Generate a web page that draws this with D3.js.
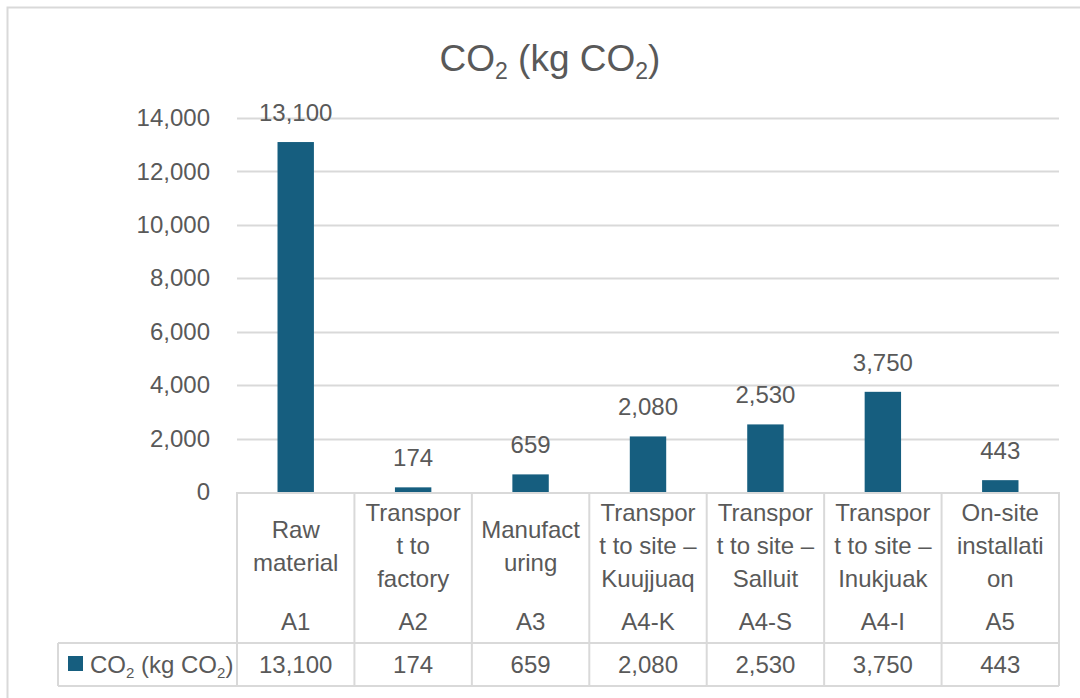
<!DOCTYPE html>
<html>
<head>
	<meta charset="utf-8">
	<title>CO2 (kg CO2)</title>
	<script src="https://d3js.org/d3.v7.min.js"></script>
	<style>
		html, body {
			margin: 0;
			background: #fff;
			overflow: hidden;
		}
		text {
			font-family: "Liberation Sans", Arial, sans-serif;
			fill: #595959;
		}
	</style>
</head>
<body>
	<svg id="svg"></svg>
	<script>
		// chart data
		const codes = ["A1", "A2", "A3", "A4-K", "A4-S", "A4-I", "A5"];
		const catLines = [
			["Raw", "material"],
			["Transpor", "t to", "factory"],
			["Manufact", "uring"],
			["Transpor", "t to site \u2013", "Kuujjuaq"],
			["Transpor", "t to site \u2013", "Salluit"],
			["Transpor", "t to site \u2013", "Inukjuak"],
			["On-site", "installati", "on"]
		];
		const co2 = [13100, 174, 659, 2080, 2530, 3750, 443];
		const yTicks = [0, 2000, 4000, 6000, 8000, 10000, 12000, 14000];

		const W = 1080, H = 698;
		const plot = { left: 237, right: 1059, top: 118, bottom: 492 };
		const rowSep = 643, tableBottom = 686, legendLeft = 58;
		const barColor = "#165e7f";
		const gridColor = "#d9d9d9";
		const fmt = d3.format(",");

		const svg = d3.select("#svg")
		.attr("width", W)
		.attr("height", H);

		// outer chart border (runs off the right and bottom edges)
		svg.append("path")
		.attr("d", `M7.5,${H + 5} V7.5 H${W + 5}`)
		.attr("fill", "none")
		.attr("stroke", gridColor)
		.attr("stroke-width", 2);

		// subscript helper: parts like ["CO", "2", " (kg CO", "2", ")"]
		function subText(sel, parts, size) {
			const sub = Math.round(size * 0.62);
			const shift = Math.round(size * 0.22);
			parts.forEach((p, i) => {
				const isSub = i % 2 === 1;
				const t = sel.append("tspan").text(p);
				if (isSub) t.attr("font-size", sub).attr("dy", shift);
				else if (i > 0) t.attr("dy", -shift);
			});
		}

		// title
		const title = svg.append("text")
		.attr("x", 550)
		.attr("y", 71)
		.attr("text-anchor", "middle")
		.attr("font-size", 37);
		subText(title, ["CO", "2", " (kg CO", "2", ")"], 37);

		const y = d3.scaleLinear()
		.domain([0, 14000])
		.range([plot.bottom, plot.top]);

		const colX = d3.scaleBand()
		.domain(codes)
		.range([plot.left, plot.right])
		.padding(0);

		const barX = d3.scaleBand()
		.domain(codes)
		.range([plot.left, plot.right])
		.paddingInner(0.69)
		.paddingOuter(0.345);

		// gridlines
		svg.append("g")
		.selectAll("line")
		.data(yTicks.filter(d => d > 0))
		.enter()
		.append("line")
		.attr("x1", plot.left)
		.attr("x2", plot.right)
		.attr("y1", d => Math.round(y(d)) + 0.5)
		.attr("y2", d => Math.round(y(d)) + 0.5)
		.attr("stroke", gridColor)
		.attr("stroke-width", 2);

		// y axis labels
		const yAxis = svg.append("g")
		.attr("transform", `translate(${plot.left - 27}, 0)`)
		.call(d3.axisLeft(y).tickValues(yTicks).tickFormat(fmt).tickSize(0).tickPadding(0));
		yAxis.select(".domain").remove();
		yAxis.selectAll("text")
		.attr("font-size", 24)
		.attr("font-family", "Liberation Sans, Arial, sans-serif")
		.attr("fill", "#595959");

		// bars
		svg.append("g")
		.selectAll("rect")
		.data(co2)
		.enter()
		.append("rect")
		.attr("x", (d, i) => barX(codes[i]))
		.attr("width", barX.bandwidth())
		.attr("y", d => y(d))
		.attr("height", d => y(0) - y(d))
		.attr("fill", barColor);

		// value labels
		svg.append("g")
		.selectAll("text")
		.data(co2)
		.enter()
		.append("text")
		.attr("x", (d, i) => colX(codes[i]) + colX.bandwidth() / 2)
		.attr("y", d => y(d) - 21)
		.attr("text-anchor", "middle")
		.attr("font-size", 24)
		.text(d => fmt(d));

		// data table lines
		const table = svg.append("g")
		.attr("stroke", gridColor)
		.attr("stroke-width", 2)
		.attr("fill", "none");

		table.append("line")
		.attr("x1", plot.left).attr("x2", plot.right)
		.attr("y1", plot.bottom + 1).attr("y2", plot.bottom + 1);
		table.append("line")
		.attr("x1", legendLeft).attr("x2", plot.right)
		.attr("y1", rowSep).attr("y2", rowSep);
		table.append("line")
		.attr("x1", legendLeft).attr("x2", plot.right)
		.attr("y1", tableBottom).attr("y2", tableBottom);
		table.append("line")
		.attr("x1", legendLeft).attr("x2", legendLeft)
		.attr("y1", rowSep).attr("y2", tableBottom);

		table.selectAll(".col")
		.data(codes.map(c => colX(c)).concat([plot.right]))
		.enter()
		.append("line")
		.attr("x1", d => d).attr("x2", d => d)
		.attr("y1", plot.bottom).attr("y2", tableBottom);

		// category labels
		const lineH = 33;
		const cats = svg.append("g")
		.selectAll("text")
		.data(catLines)
		.enter()
		.append("text")
		.attr("text-anchor", "middle")
		.attr("font-size", 24);

		cats.each(function (lines, i) {
			const cx = colX(codes[i]) + colX.bandwidth() / 2;
			const y0 = 546 - (lines.length - 1) * lineH / 2 + 8;
			d3.select(this).selectAll("tspan")
			.data(lines)
			.enter()
			.append("tspan")
			.attr("x", cx)
			.attr("y", (l, j) => y0 + j * lineH)
			.text(l => l);
		});

		// codes
		svg.append("g")
		.selectAll("text")
		.data(codes)
		.enter()
		.append("text")
		.attr("x", d => colX(d) + colX.bandwidth() / 2)
		.attr("y", 630)
		.attr("text-anchor", "middle")
		.attr("font-size", 24)
		.text(d => d);

		// values row
		svg.append("g")
		.selectAll("text")
		.data(co2)
		.enter()
		.append("text")
		.attr("x", (d, i) => colX(codes[i]) + colX.bandwidth() / 2)
		.attr("y", 673)
		.attr("text-anchor", "middle")
		.attr("font-size", 24)
		.text(d => fmt(d));

		// legend key
		svg.append("rect")
		.attr("x", 68)
		.attr("y", 656)
		.attr("width", 15)
		.attr("height", 15)
		.attr("fill", barColor);

		const legend = svg.append("text")
		.attr("x", 90)
		.attr("y", 673)
		.attr("font-size", 24);
		subText(legend, ["CO", "2", " (kg CO", "2", ")"], 24);
	</script>
</body>
</html>
